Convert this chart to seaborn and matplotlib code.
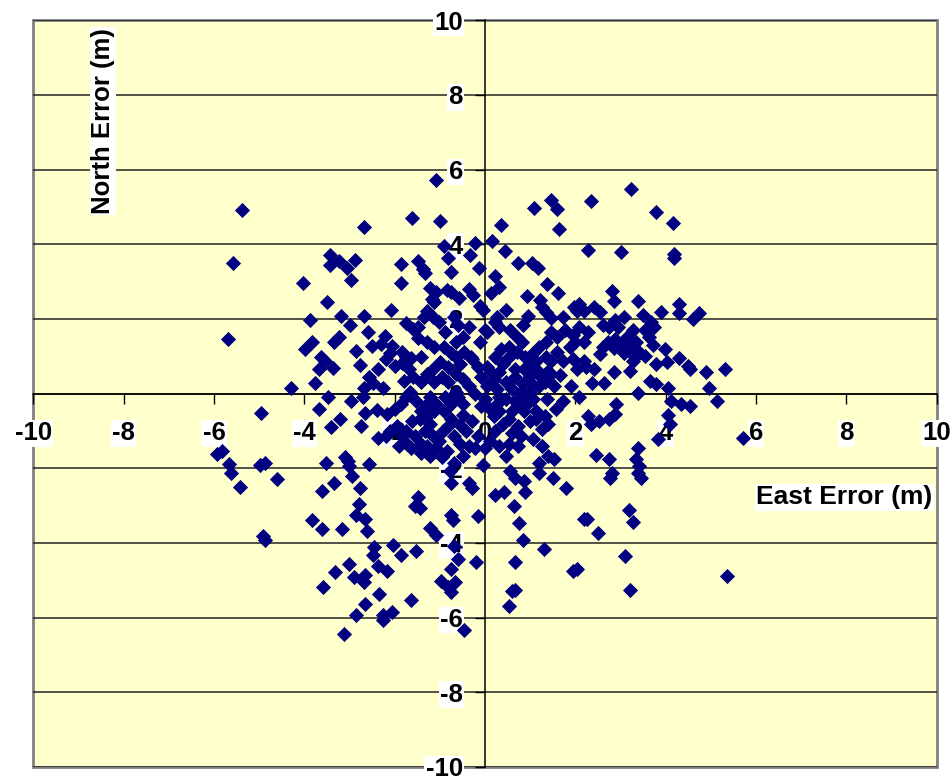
import numpy as np
import pandas as pd
import matplotlib
matplotlib.use("Agg")
import matplotlib.pyplot as plt
import seaborn as sns

# --- position error samples (East, North) in metres ---
upper_pts = [
    (-1.08, 5.72), (-5.39, 4.91), (3.23, 5.49), (1.45, 5.19), (2.34, 5.15), (1.08, 4.97),
    (1.59, 4.95), (3.79, 4.87), (4.17, 4.56), (1.64, 4.42), (0.35, 4.52), (-1.61, 4.69),
    (-0.99, 4.62), (-2.67, 4.46), (-5.58, 3.50), (2.27, 3.85), (3.02, 3.79), (4.19, 3.74),
    (4.19, 3.63), (0.16, 4.08), (-0.22, 4.03), (-0.91, 3.94), (-0.82, 3.63), (-0.34, 3.71),
    (0.44, 3.81), (-3.44, 3.71), (-2.88, 3.59), (-3.23, 3.54), (-3.43, 3.43), (-3.06, 3.37),
    (-2.97, 3.04), (-4.02, 2.97), (-1.85, 3.47), (-1.48, 3.55), (-1.38, 3.33), (-1.33, 3.22),
    (-1.86, 2.96), (-0.75, 3.25), (-0.13, 3.36), (0.22, 3.14), (0.73, 3.50), (1.05, 3.50),
    (1.17, 3.36), (0.32, 2.86), (0.13, 2.68), (1.37, 2.94), (1.61, 2.69), (0.93, 2.60),
    (2.80, 2.75), (2.85, 2.49), (3.39, 2.47), (4.30, 2.39), (4.29, 2.15), (3.90, 2.18),
    (4.73, 2.15), (4.60, 2.00), (3.49, 2.11), (-1.21, 2.84), (-1.09, 2.71), (-1.18, 2.52),
    (-1.13, 2.44), (-0.85, 2.77), (-0.75, 2.71), (-0.35, 2.81), (-0.27, 2.63), (-0.58, 2.56),
    (-0.11, 2.35), (-0.04, 2.24), (-3.49, 2.44), (-2.67, 2.08), (-2.08, 2.23), (-3.88, 1.98),
    (-3.19, 2.07), (-2.98, 1.84), (-0.69, 2.04), (-0.59, 1.84), (0.46, 2.24), (0.27, 2.04),
    (0.94, 2.08), (1.21, 2.51), (1.26, 2.31), (1.34, 2.18), (1.47, 2.02), (1.73, 2.04),
    (1.96, 2.33), (2.04, 2.20), (2.20, 2.20), (2.07, 2.41), (2.41, 2.31), (2.55, 2.18),
    (2.88, 1.98), (3.08, 2.04), (-1.36, 2.04), (-1.16, 2.04), (-1.29, 2.20),
]

center_pts = [
    (-5.69, 1.45), (-2.59, 1.64), (-2.22, 1.55), (-3.24, 1.51), (-3.35, 1.38), (-2.51, 1.27),
    (-2.31, 1.33), (-2.06, 1.27), (-2.86, 1.14), (-1.76, 1.88), (-1.60, 1.74), (-1.48, 1.78),
    (-1.02, 1.91), (-1.49, 1.49), (-1.29, 1.38), (-1.13, 1.25), (-1.83, 1.11), (-1.76, 0.98),
    (-1.63, 0.95), (-1.42, 0.98), (-0.91, 1.25), (-0.75, 1.09), (-0.65, 1.38), (-0.46, 1.11),
    (-0.32, 0.98), (-0.11, 1.38), (-0.01, 1.71), (0.05, 1.64), (0.22, 1.91), (0.32, 1.78),
    (0.56, 1.71), (0.70, 1.51), (0.81, 1.38), (0.83, 1.84), (2.61, 1.84), (2.74, 1.78),
    (2.94, 1.78), (3.28, 1.71), (3.55, 1.71), (3.68, 1.91), (3.75, 1.78), (3.62, 1.51),
    (3.72, 1.31), (3.15, 1.51), (3.21, 1.25), (2.85, 1.21), (3.08, 1.09), (3.55, 1.01),
    (3.99, 1.18), (4.29, 0.95), (4.02, 0.85), (3.78, 0.78), (4.49, 0.74), (4.53, 0.65),
    (4.89, 0.58), (5.32, 0.66), (4.96, 0.16), (5.13, -0.19), (4.06, 0.15), (4.12, -0.19),
    (4.33, -0.28), (4.53, -0.34), (3.66, 0.34), (3.79, 0.25), (3.39, 0.01), (4.06, -0.58),
    (4.09, -0.81), (2.91, -0.28), (2.87, -0.54), (2.74, -0.68), (2.53, -0.74), (2.34, -0.81),
    (2.27, -0.61), (2.07, -0.08), (2.37, 0.28), (2.63, 0.28), (2.85, 0.58), (3.21, 0.61),
    (3.28, 0.88), (1.94, 0.92), (2.18, 0.88), (1.73, 0.88), (1.60, 1.11), (1.87, 1.25),
    (2.00, 1.38), (2.20, 1.38), (2.27, 1.64), (2.07, 1.78), (1.94, 1.58), (1.77, 1.71),
    (1.60, 1.51), (1.47, 1.64), (1.34, 1.38), (1.20, 1.25), (1.06, 1.09), (1.34, 0.99),
    (1.47, 0.88), (1.13, 0.88), (0.89, 0.98), (0.97, 0.72), (0.66, 0.65), (0.52, 0.98),
    (0.40, 0.78), (0.32, 0.58), (0.19, 0.38), (0.05, 0.19), (0.26, 0.12), (0.46, 0.32),
    (0.66, 0.45), (0.83, 0.25), (0.99, 0.32), (1.20, 0.19), (1.37, -0.15), (1.06, -0.15),
    (0.86, -0.08), (0.66, -0.21), (0.46, -0.15), (0.26, -0.28), (0.12, -0.41), (0.30, -0.48),
    (0.59, -0.48), (0.86, -0.48), (1.13, -0.48), (0.99, -0.74), (0.73, -0.88), (-4.96, -0.52),
    (-4.29, 0.15), (-3.76, 0.28), (-3.68, -0.41), (-3.48, -0.08), (-3.40, -0.90), (-3.21, -0.68),
    (-2.97, -0.21), (-2.70, -0.08), (-2.69, 0.16), (-2.49, 0.28), (-2.26, 0.15), (-3.68, 0.65),
    (-3.64, 0.98), (-3.55, 0.88), (-3.36, 0.69), (-2.77, 0.76), (-2.65, -0.52), (-2.74, -0.88),
    (-2.39, -0.45), (-2.16, -0.54), (-1.99, -0.41), (-1.85, -0.28), (-1.76, -0.08), (-1.80, 0.34),
    (-1.83, 0.82), (-1.69, 0.65), (-1.59, 0.45), (-1.42, 0.32), (-1.67, 0.05), (-1.53, -0.21),
    (-1.42, -0.48), (-1.61, -0.74), (-1.22, -0.81), (-0.94, -1.01), (-0.82, -0.88), (-0.48, -0.58),
    (-0.28, -0.74), (-0.08, -0.34), (-0.22, -0.01), (-0.35, 0.19), (-0.48, 0.38), (-0.65, 0.52),
    (-0.82, 0.72), (-0.99, 0.85), (-1.16, 0.65), (-1.29, 0.52), (-1.13, 0.32), (-0.95, 0.45),
    (-1.22, -0.08), (-1.09, -0.28), (-0.91, -0.48), (-0.75, -0.28), (-0.59, -0.08), (-0.48, -0.28),
    (-0.08, 0.45), (-0.15, 0.72), (-0.28, 0.92), (0.05, 0.72), (0.16, 0.54), (-0.01, -0.15),
    (0.59, 0.12), (0.79, 0.05), (0.32, -0.08), (1.40, 0.61), (1.20, 0.50), (1.67, 0.50),
    (-2.20, 0.92), (-2.10, 1.09), (-1.99, 0.74), (-2.37, 0.65), (-2.57, 0.45), (-3.82, 1.38),
    (-3.98, 1.18), (-0.89, 1.64), (-0.48, 1.51), (-0.35, 1.78), (-0.65, 0.98), (-0.55, 0.78),
    (-0.82, 0.32), (-0.65, 0.05), (-0.89, -0.08), (-1.29, -0.28), (-1.45, -0.68), (-1.29, -0.61),
    (-1.13, -0.48), (-0.75, -0.68), (-0.55, -0.85), (-1.96, -0.88), (0.19, -0.61), (0.39, -0.81),
    (0.22, 0.98), (0.35, 1.18), (0.54, 1.25), (0.70, 1.11), (0.86, 0.65), (0.99, 0.48),
    (1.13, 0.65), (1.33, 0.32), (1.53, 0.19), (1.47, 0.52), (0.99, 0.05), (0.73, -0.28),
    (0.52, -0.68), (0.93, -0.28), (1.13, -0.68), (1.33, -0.61), (1.40, -0.81), (1.56, -0.41),
    (1.73, -0.21), (1.91, 0.19), (2.04, 0.65), (2.23, 0.72), (2.41, 0.65), (2.54, 1.05),
    (2.61, 1.25), (2.72, 1.38), (2.88, 1.45), (3.01, 1.31), (3.35, 1.38), (3.41, 1.11),
    (3.32, 0.98),
]

lower_pts = [
    (5.70, -1.18), (3.82, -1.21), (3.39, -1.45), (3.35, -1.74), (3.41, -1.94), (3.39, -2.14),
    (3.45, -2.27), (2.74, -1.74), (2.80, -2.14), (2.77, -2.27), (2.45, -1.64), (0.59, -1.07),
    (0.79, -1.14), (1.06, -1.21), (1.26, -0.94), (1.26, -1.41), (1.40, -1.67), (1.53, -1.75),
    (1.20, -1.87), (1.20, -2.14), (1.51, -2.27), (1.80, -2.53), (0.86, -2.33), (0.56, -2.07),
    (0.66, -2.27), (0.89, -2.64), (0.43, -2.64), (0.22, -2.71), (0.65, -3.00), (0.75, -3.46),
    (0.83, -3.93), (-0.15, -3.29), (-0.19, -4.50), (0.66, -4.50), (1.30, -4.16), (1.94, -4.76),
    (2.04, -4.69), (2.18, -3.37), (2.25, -3.37), (2.51, -3.73), (3.19, -3.13), (3.28, -3.43),
    (3.10, -4.36), (3.20, -5.25), (5.36, -4.89), (0.66, -5.25), (0.59, -5.28), (0.54, -5.68),
    (-0.46, -6.34), (-0.75, -5.32), (-0.82, -5.18), (-0.98, -5.03), (-0.67, -5.05), (-0.75, -4.69),
    (-0.59, -4.43), (-0.68, -4.08), (-1.09, -3.79), (-1.22, -3.59), (-0.75, -3.26), (-0.72, -3.40),
    (-0.75, -2.40), (-0.35, -2.40), (-0.28, -2.53), (-0.04, -1.91), (-1.49, -2.77), (-1.56, -3.00),
    (-1.45, -3.06), (-1.52, -4.22), (-1.63, -5.52), (-1.87, -4.32), (-2.03, -4.06), (-2.18, -4.75),
    (-2.37, -4.62), (-2.47, -4.32), (-2.45, -4.12), (-2.07, -5.85), (-2.26, -5.92), (-2.26, -6.07),
    (-2.34, -5.38), (-2.65, -5.65), (-2.85, -5.94), (-2.66, -4.85), (-2.67, -5.05), (-2.90, -4.92),
    (-3.01, -4.56), (-3.33, -4.79), (-3.13, -6.45), (-3.58, -5.19), (-3.17, -3.63), (-3.62, -3.63),
    (-3.82, -3.40), (-2.61, -3.69), (-2.66, -3.37), (-2.85, -3.26), (-2.78, -2.96), (-2.77, -2.53),
    (-2.94, -2.20), (-3.35, -2.40), (-3.62, -2.60), (-3.10, -1.70), (-3.04, -1.80), (-3.01, -1.94),
    (-3.52, -1.87), (-2.56, -1.90), (-4.92, -3.82), (-4.87, -3.93), (-5.43, -2.49), (-5.63, -2.12),
    (-5.67, -1.90), (-5.94, -1.62), (-5.83, -1.54), (-4.99, -1.91), (-4.88, -1.86), (-4.60, -2.28),
    (-2.37, -1.18), (-1.76, -1.01), (-1.72, -1.34), (-1.56, -1.14), (-1.42, -1.34), (-1.32, -1.01),
    (-1.16, -1.14), (-1.09, -1.47), (-1.02, -1.27), (-1.29, -1.40), (-0.69, -1.14), (-0.55, -1.34),
    (-0.42, -1.01), (-0.15, -1.14), (-0.01, -1.47), (-0.22, -1.47), (-0.85, -1.54), (-0.95, -1.70),
    (-0.35, -1.41), (-0.48, -1.67), (-0.78, -2.07), (-0.69, -1.87), (-1.22, -1.67), (-1.42, -1.60),
    (-1.63, -1.47), (-1.83, -1.14), (-2.10, -1.01), (-1.90, -1.41), (-2.20, -1.14), (0.22, -1.01),
    (0.12, -1.27), (0.30, -1.41), (0.52, -1.34), (0.73, -1.41), (0.46, -1.67),
]

east_err = [p[0] for p in upper_pts + center_pts + lower_pts]
north_err = [p[1] for p in upper_pts + center_pts + lower_pts]
df = pd.DataFrame({"East Error (m)": east_err, "North Error (m)": north_err})

tick_vals = list(range(-10, 11, 2))

plt.rcParams['font.family'] = ['Liberation Sans', 'DejaVu Sans']
plt.rcParams['font.weight'] = 'bold'

fig = plt.figure(figsize=(9.52, 7.77), dpi=100)
ax = fig.add_axes([0.035, 0.013, 0.949, 0.961])
ax.set_facecolor('#FFFFCC')
ax.patch.set_edgecolor('#808080')
ax.patch.set_linewidth(2)

sns.scatterplot(data=df, x="East Error (m)", y="North Error (m)", marker='D',
                color='#000080', s=60, linewidth=0, ax=ax, zorder=3)

ax.set_xlim(-10, 10)
ax.set_ylim(-10, 10)
ax.set_xticks(tick_vals)
ax.set_yticks(tick_vals)
ax.set_xticklabels([str(v) for v in tick_vals])
ax.set_yticklabels([str(v) for v in tick_vals])

# horizontal gridlines only, like the Excel original
ax.yaxis.grid(True, color='#222222', linewidth=1.1)
ax.xaxis.grid(False)
ax.set_axisbelow(True)

# axes crossing at the origin
ax.spines['left'].set_position(('data', 0))
ax.spines['bottom'].set_position(('data', 0))
for side in ['left', 'bottom']:
    ax.spines[side].set_color('black')
    ax.spines[side].set_linewidth(1.1)
    ax.spines[side].set_zorder(2)
for side in ['top', 'right']:
    ax.spines[side].set_visible(False)

ax.tick_params(axis='x', direction='out', length=7, width=1, pad=13, labelsize=18.5)
ax.tick_params(axis='y', direction='out', length=7, width=1, pad=9, labelsize=18.5)
for lbl in ax.get_xticklabels() + ax.get_yticklabels():
    lbl.set_fontweight('bold')
    lbl.set_bbox(dict(facecolor='white', edgecolor='none', pad=1))
    lbl.set_zorder(4)

ax.set_xlabel('')
ax.set_ylabel('')
ax.text(0.077, 0.865, 'North Error (m)', transform=ax.transAxes, rotation=90,
        ha='center', va='center', fontsize=18.5, fontweight='bold',
        bbox=dict(facecolor='white', edgecolor='none', pad=1))
ax.text(0.898, 0.361, 'East Error (m)', transform=ax.transAxes,
        ha='center', va='center', fontsize=19, fontweight='bold',
        bbox=dict(facecolor='white', edgecolor='none', pad=1))

fig.savefig('out.png', dpi=100)
